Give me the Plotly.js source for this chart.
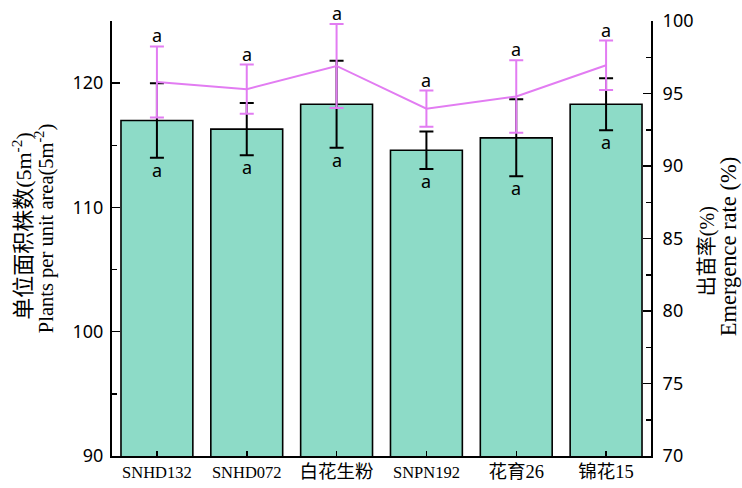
<!DOCTYPE html>
<html><head><meta charset="utf-8">
<script src="https://cdn.plot.ly/plotly-3.0.1.min.js"></script>
<style>html,body{margin:0;padding:0;background:#fff}</style>
</head><body>
<div id="chart" style="width:742px;height:488px"></div>
<script>
const categories = ["SNHD132", "SNHD072", "白花生粉", "SNPN192", "花育26", "锦花15"];
const plants = [117.0, 116.3, 118.3, 114.6, 115.6, 118.3];
const plantsErr = [3.0, 2.1, 3.5, 1.5, 3.1, 2.1];
const emergence = [95.8, 95.3, 96.9, 93.95, 94.8, 96.95];
const emergenceErr = [2.45, 1.7, 2.9, 1.25, 2.5, 1.7];
const plantsLetters = ["a", "a", "a", "a", "a", "a"];
const emergenceLetters = ["a", "a", "a", "a", "a", "a"];
const leftTitle = ["单位面积株数(5m<sup>-2</sup>)", "Plants per unit area(5m<sup>-2</sup>)"];
const rightTitle = ["出苗率(%)", "Emergence rate (%)"];

const xs = categories.map((_, i) => i);
const tickFont = {family: "Noto Sans, DejaVu Sans, sans-serif", size: 18, color: "#000"};
// labels containing CJK glyphs are drawn a little larger
const tickText = categories.map(c => /[\u4e00-\u9fff]/.test(c) ? '<span style="font-size:18.5px">' + c + '</span>' : c);
const titleFamily = "Liberation Serif, Noto Sans CJK SC, serif";

const traces = [
  {
    type: "bar", x: xs, y: plants, width: 0.8,
    marker: {color: "#8DDBC7", line: {color: "#000", width: 1.6}},
    error_y: {type: "data", array: plantsErr, visible: true, color: "#000", thickness: 2, width: 7},
    yaxis: "y", hoverinfo: "none"
  },
  {
    type: "scatter", mode: "lines", x: xs, y: emergence, yaxis: "y2",
    line: {color: "#E27CF2", width: 2},
    error_y: {type: "data", array: emergenceErr, visible: true, color: "#E27CF2", thickness: 2, width: 7},
    hoverinfo: "none"
  }
];

const annotations = [];
xs.forEach((x, i) => {
  annotations.push({x: x, y: emergence[i] + emergenceErr[i], xref: "x", yref: "y2",
    text: emergenceLetters[i], showarrow: false, yanchor: "bottom", yshift: -3,
    font: {family: "Noto Sans, sans-serif", size: 18, color: "#000"}});
  annotations.push({x: x, y: plants[i] - plantsErr[i], xref: "x", yref: "y",
    text: plantsLetters[i], showarrow: false, yanchor: "top", yshift: 2,
    font: {family: "Noto Sans, sans-serif", size: 18, color: "#000"}});
});
// axis titles as rotated annotations
const titleSpecs = [
  {text: leftTitle[0], x: -0.167, y: 0.529, size: 22},
  {text: leftTitle[1], x: -0.126, y: 0.524, size: 20.5},
  {text: rightTitle[0], x: 1.104, y: 0.471, size: 20},
  {text: rightTitle[1], x: 1.143, y: 0.480, size: 22.5}
];
titleSpecs.forEach(s => annotations.push({
  text: s.text, x: s.x, y: s.y, xref: "paper", yref: "paper", textangle: -90,
  xanchor: "center", yanchor: "middle", showarrow: false,
  font: {family: titleFamily, size: s.size, color: "#000"}
}));

const layout = {
  width: 742, height: 488,
  margin: {l: 112, r: 91, t: 21, b: 32, pad: 0},
  paper_bgcolor: "#fff", plot_bgcolor: "#fff",
  showlegend: false,
  xaxis: {
    range: [-0.5, 5.5], tickmode: "array", tickvals: xs, ticktext: tickText,
    ticks: "inside", ticklen: 5, tickwidth: 1.5, tickcolor: "#000",
    showline: true, linecolor: "#000", linewidth: 2, showgrid: false, zeroline: false,
    tickfont: {family: titleFamily, size: 16.5, color: "#000"}
  },
  yaxis: {
    range: [90, 125], tickvals: [90, 100, 110, 120],
    ticks: "inside", ticklen: 8, tickwidth: 1.5, tickcolor: "#000",
    minor: {tickvals: [95, 105, 115, 125], ticks: "inside", ticklen: 5, tickwidth: 1.5, tickcolor: "#000", showgrid: false},
    showline: true, linecolor: "#000", linewidth: 2, showgrid: false, zeroline: false,
    tickfont: tickFont, ticklabelstandoff: 3
  },
  yaxis2: {
    overlaying: "y", side: "right", anchor: "x",
    range: [70, 100], tickvals: [70, 75, 80, 85, 90, 95, 100],
    ticks: "inside", ticklen: 8, tickwidth: 1.5, tickcolor: "#000",
    minor: {tickvals: [72.5, 77.5, 82.5, 87.5, 92.5, 97.5], ticks: "inside", ticklen: 5, tickwidth: 1.5, tickcolor: "#000", showgrid: false},
    showline: true, linecolor: "#000", linewidth: 2, showgrid: false, zeroline: false,
    tickfont: tickFont, ticklabelstandoff: 6
  },
  annotations: annotations
};

Plotly.newPlot("chart", traces, layout, {displayModeBar: false, staticPlot: true});
</script>
</body></html>
